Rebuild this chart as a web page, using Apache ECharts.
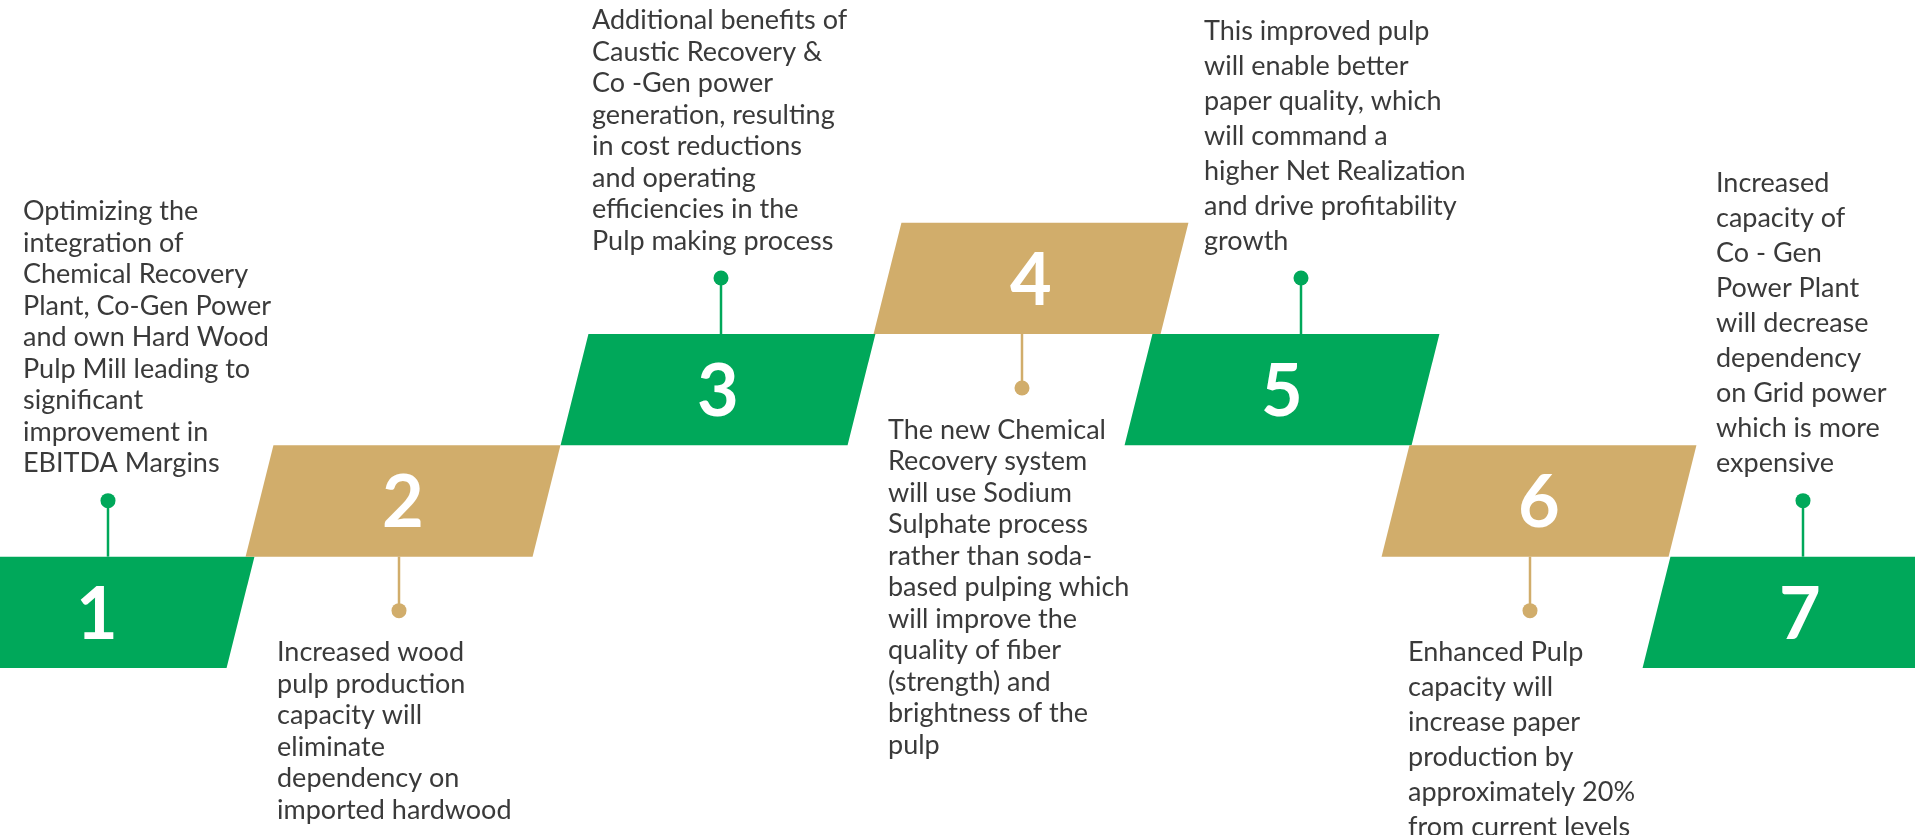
<!DOCTYPE html>
<html lang="en">

<head>
  <meta charset="UTF-8">
  <title>Pulp mill steps</title>
  <script src="https://cdn.jsdelivr.net/npm/echarts@6/dist/echarts.min.js"></script>
  <style>
    html, body {
      margin: 0;
      padding: 0;
      background: #fff;
    }

    #main {
      width: 1915px;
      height: 835px;
    }
  </style>
</head>

<body>
  <div id="main"></div>

  <script>
    // step data
    var steps = ['1', '2', '3', '4', '5', '6', '7'];
    // position along the path (x axis units) and height level of each step
    var stepX = [97, 403, 718, 1031, 1282, 1539, 1800];
    var stepLevel = [1, 2, 3, 4, 3, 2, 1];
    // where the pin and the note sit on the x axis
    var pinX = [108, 399, 721, 1022, 1301, 1530, 1803];
    var noteX = [23, 277, 592, 888, 1204, 1408, 1716];

    var notes = [
      ['Optimizing the', 'integration of', 'Chemical Recovery', 'Plant, Co-Gen Power', 'and own Hard Wood',
        'Pulp Mill leading to', 'significant', 'improvement in', 'EBITDA Margins'],
      ['Increased wood', 'pulp production', 'capacity will', 'eliminate', 'dependency on', 'imported hardwood'],
      ['Additional benefits of', 'Caustic Recovery &', 'Co -Gen power', 'generation, resulting',
        'in cost reductions', 'and operating', 'efficiencies in the', 'Pulp making process'],
      ['The new Chemical', 'Recovery system', 'will use Sodium', 'Sulphate process', 'rather than soda-',
        'based pulping which', 'will improve the', 'quality of fiber', '(strength) and', 'brightness of the', 'pulp'],
      ['This improved pulp', 'will enable better', 'paper quality, which', 'will command a',
        'higher Net Realization', 'and drive profitability', 'growth'],
      ['Enhanced Pulp', 'capacity will', 'increase paper', 'production by', 'approximately 20%',
        'from current levels'],
      ['Increased', 'capacity of', 'Co - Gen', 'Power Plant', 'will decrease', 'dependency',
        'on Grid power', 'which is more', 'expensive']
    ];

    var green = '#00a85a';
    var tan = '#d1ad6b';
    var textColor = '#3a3a3a';
    var font = 'Lato, "Open Sans", sans-serif';

    var data = [];
    for (var i = 0; i < steps.length; i++) {
      data.push([stepX[i], stepLevel[i], pinX[i], noteX[i]]);
    }

    function renderStep(params, api) {
      var i = params.dataIndex;
      var up = i % 2 === 0; // green steps have the note above
      var color = up ? green : tan;
      var c = api.coord([api.value(0), api.value(1)]);
      var h = api.size([0, 1])[1];
      var w = api.size([287, 0])[0];
      var slant = h * 0.25;
      var top = c[1] - h / 2;
      var bottom = c[1] + h / 2;
      var pin = api.coord([api.value(2), api.value(1)]);
      var noteLeft = api.coord([api.value(3), api.value(1)])[0];
      var lh = i < 4 ? 31.5 : 35;

      var dotY, lineFrom, lineTo, noteStyle;
      if (up) {
        dotY = top - 56;
        lineFrom = dotY;
        lineTo = top;
        noteStyle = { y: dotY - 37 + lh / 2, verticalAlign: 'bottom' };
      } else {
        dotY = bottom + 54;
        lineFrom = bottom;
        lineTo = dotY;
        noteStyle = { y: dotY + 42 - lh / 2, verticalAlign: 'top' };
      }

      return {
        type: 'group',
        children: [{
          type: 'polygon',
          shape: {
            points: [
              [c[0] - w / 2 + slant / 2, top],
              [c[0] + w / 2 + slant / 2, top],
              [c[0] + w / 2 - slant / 2, bottom],
              [c[0] - w / 2 - slant / 2, bottom]
            ]
          },
          style: { fill: color }
        }, {
          type: 'text',
          style: {
            text: steps[i],
            x: c[0],
            y: c[1] + 3,
            align: 'center',
            verticalAlign: 'middle',
            fill: '#fff',
            fontFamily: font,
            fontWeight: 'bold',
            fontSize: 72
          }
        }, {
          type: 'line',
          shape: { x1: pin[0], y1: lineFrom, x2: pin[0], y2: lineTo },
          style: { stroke: color, lineWidth: 2.5 }
        }, {
          type: 'circle',
          shape: { cx: pin[0], cy: dotY, r: 7.5 },
          style: { fill: color }
        }, {
          type: 'text',
          style: {
            text: notes[i].join('\n'),
            x: noteLeft,
            y: noteStyle.y,
            align: 'left',
            verticalAlign: noteStyle.verticalAlign,
            fill: textColor,
            fontFamily: font,
            fontSize: 27,
            lineHeight: lh
          }
        }]
      };
    }

    var myChart = echarts.init(document.getElementById('main'));
    var option = {
      animation: false,
      grid: { left: 0, right: 0, top: 0, bottom: 0 },
      xAxis: { type: 'value', min: 0, max: 1915, show: false },
      yAxis: { type: 'value', min: -1, max: 6.5, show: false },
      series: [{
        type: 'custom',
        renderItem: renderStep,
        data: data,
        clip: false
      }]
    };
    myChart.setOption(option);
  </script>
</body>

</html>
